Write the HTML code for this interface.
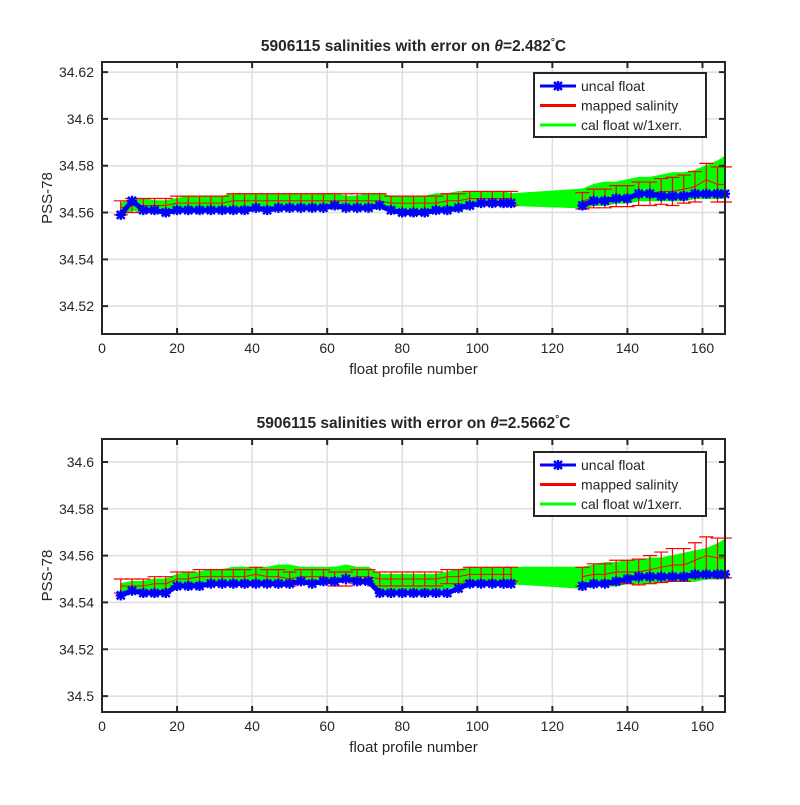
<!DOCTYPE html>
<html><head><meta charset="utf-8"><style>
body{margin:0;background:#fff}
svg text{font-family:"Liberation Sans",sans-serif;fill:#262626}
</style></head><body>
<svg id="fig" width="800" height="800" viewBox="0 0 800 800" xmlns="http://www.w3.org/2000/svg"></svg>
<script>
const profiles=[5,8,11,14,17,20,23,26,29,32,35,38,41,44,47,50,53,56,59,62,65,68,71,74,77,80,83,86,89,92,95,98,101,104,107,109,128,131,134,137,140,143,146,149,152,155,158,161,164,166];
const xTicks=[0,20,40,60,80,100,120,140,160];
// panel 1
const uncal1=[34.559,34.565,34.561,34.561,34.560,34.561,34.561,34.561,34.561,34.561,34.561,34.561,34.562,34.561,34.562,34.562,34.562,34.562,34.562,34.563,34.562,34.562,34.562,34.563,34.561,34.560,34.560,34.560,34.561,34.561,34.562,34.563,34.564,34.564,34.564,34.564,34.563,34.565,34.565,34.566,34.566,34.568,34.568,34.567,34.567,34.567,34.568,34.568,34.568,34.568];
const mapped1=[34.562,34.563,34.563,34.563,34.563,34.564,34.564,34.564,34.564,34.564,34.565,34.565,34.565,34.565,34.565,34.565,34.565,34.565,34.565,34.565,34.565,34.565,34.565,34.565,34.564,34.564,34.564,34.564,34.564,34.565,34.565,34.566,34.566,34.566,34.566,34.566,34.565,34.566,34.566,34.567,34.567,34.568,34.568,34.569,34.569,34.570,34.571,34.574,34.572,34.572];
const err1=[0.003,0.003,0.003,0.003,0.003,0.003,0.003,0.003,0.003,0.003,0.003,0.003,0.003,0.003,0.003,0.003,0.003,0.003,0.003,0.003,0.003,0.003,0.003,0.003,0.003,0.003,0.003,0.003,0.003,0.003,0.003,0.003,0.003,0.003,0.003,0.003,0.0035,0.004,0.004,0.0045,0.0045,0.005,0.005,0.0055,0.006,0.006,0.0065,0.007,0.0075,0.0075];
const calHi1=[34.564,34.566,34.566,34.565,34.565,34.566,34.567,34.567,34.567,34.567,34.568,34.568,34.568,34.568,34.568,34.568,34.568,34.568,34.568,34.568,34.567,34.567,34.568,34.568,34.567,34.567,34.567,34.567,34.568,34.568,34.569,34.569,34.569,34.569,34.569,34.568,34.570,34.572,34.573,34.573,34.574,34.575,34.575,34.576,34.577,34.577,34.578,34.580,34.582,34.584];
const calLo1=[34.558,34.561,34.560,34.560,34.559,34.560,34.560,34.560,34.560,34.560,34.560,34.560,34.561,34.560,34.561,34.561,34.561,34.561,34.561,34.562,34.561,34.561,34.561,34.562,34.560,34.559,34.559,34.559,34.560,34.560,34.561,34.562,34.563,34.563,34.563,34.563,34.562,34.563,34.563,34.564,34.564,34.565,34.565,34.565,34.565,34.565,34.566,34.566,34.566,34.566];
const yTicks1=[34.52,34.54,34.56,34.58,34.6,34.62];
const yTickLabels1=["34.52","34.54","34.56","34.58","34.6","34.62"];
// panel 2
const uncal2=[34.543,34.545,34.544,34.544,34.544,34.547,34.547,34.547,34.548,34.548,34.548,34.548,34.548,34.548,34.548,34.548,34.549,34.548,34.549,34.549,34.550,34.549,34.549,34.544,34.544,34.544,34.544,34.544,34.544,34.544,34.546,34.548,34.548,34.548,34.548,34.548,34.547,34.548,34.548,34.549,34.550,34.551,34.551,34.551,34.551,34.551,34.552,34.552,34.552,34.552];
const mapped2=[34.547,34.547,34.547,34.548,34.548,34.550,34.550,34.551,34.551,34.551,34.551,34.551,34.552,34.551,34.551,34.550,34.551,34.551,34.551,34.550,34.550,34.551,34.551,34.550,34.550,34.550,34.550,34.550,34.550,34.551,34.551,34.552,34.552,34.552,34.552,34.552,34.551,34.552,34.552,34.553,34.553,34.553,34.554,34.555,34.556,34.556,34.558,34.560,34.559,34.559];
const err2=[0.003,0.003,0.003,0.003,0.003,0.003,0.003,0.003,0.003,0.003,0.003,0.003,0.003,0.003,0.003,0.003,0.003,0.003,0.003,0.003,0.003,0.003,0.003,0.003,0.003,0.003,0.003,0.003,0.003,0.003,0.003,0.003,0.003,0.003,0.003,0.003,0.004,0.0045,0.0045,0.005,0.005,0.0055,0.006,0.0065,0.007,0.007,0.0075,0.008,0.0085,0.0085];
const calHi2=[34.548,34.549,34.549,34.550,34.550,34.552,34.553,34.553,34.554,34.554,34.555,34.555,34.555,34.555,34.556,34.556,34.555,34.555,34.555,34.555,34.556,34.555,34.555,34.552,34.552,34.552,34.552,34.552,34.552,34.553,34.554,34.555,34.555,34.555,34.555,34.555,34.555,34.556,34.557,34.557,34.558,34.558,34.559,34.559,34.560,34.561,34.562,34.563,34.565,34.567];
const calLo2=[34.544,34.546,34.545,34.545,34.545,34.547,34.547,34.547,34.548,34.548,34.548,34.548,34.548,34.548,34.548,34.548,34.549,34.548,34.549,34.549,34.549,34.549,34.549,34.545,34.545,34.545,34.545,34.545,34.545,34.546,34.547,34.548,34.548,34.548,34.548,34.548,34.546,34.547,34.547,34.547,34.548,34.548,34.548,34.549,34.549,34.549,34.549,34.550,34.550,34.550];
const yTicks2=[34.5,34.52,34.54,34.56,34.58,34.6];
const yTickLabels2=["34.5","34.52","34.54","34.56","34.58","34.6"];

const NS="http://www.w3.org/2000/svg";
const svg=document.getElementById('fig');
function mk(tag,attrs,parent){const e=document.createElementNS(NS,tag);for(const k in attrs)e.setAttribute(k,attrs[k]);(parent||svg).appendChild(e);return e;}
// split into segments where profile gap > 10
function segments(){const segs=[];let cur=[];profiles.forEach((p,i)=>{if(i>0&&p-profiles[i-1]>10){segs.push(cur);cur=[];}cur.push(i);});segs.push(cur);return segs;}

function panel(cfg){
  const g=mk('g',{});
  
  
  const L=102,R=725,T=cfg.top,B=cfg.bottom;
  const sx=v=>L+(v-0)/(166-0)*(R-L);
  const sy=v=>B-(v-cfg.ymin)/(cfg.ymax-cfg.ymin)*(B-T);
  xTicks.forEach(t=>{const l=mk('line',{x1:sx(t),x2:sx(t),y1:T,y2:B,stroke:'#dedede','stroke-width':1.5},g);
    
    });
  cfg.yt.forEach(t=>{const l=mk('line',{x1:L,x2:R,y1:sy(t),y2:sy(t),stroke:'#dedede','stroke-width':1.5},g);
    
    });
  let pts=profiles.map((p,i)=>sx(p)+','+sy(cfg.hi[i]));
  for(let i=profiles.length-1;i>=0;i--)pts.push(sx(profiles[i])+','+sy(cfg.lo[i]));
  const band=mk('polygon',{points:pts.join(' '),fill:'#00ff00',stroke:'#00ff00','stroke-width':1},g);
  
  
  const segs=segments();
  segs.forEach(s=>{
    const mline=mk('polyline',{points:s.map(i=>sx(profiles[i])+','+sy(cfg.mapped[i])).join(' '),fill:'none',stroke:'#ff0000','stroke-width':1},g);
    
    
  });
  profiles.forEach((p,i)=>{
    const x=sx(p),y1=sy(cfg.mapped[i]+cfg.err[i]),y2=sy(cfg.mapped[i]-cfg.err[i]);
    const eb=mk('path',{d:`M${x},${y1}V${y2}M${x-7},${y1}H${x+7}M${x-7},${y2}H${x+7}`,stroke:'#ff0000','stroke-width':1.2,fill:'none'},g);
    
    
  });
  segs.forEach(s=>{
    const u=mk('polyline',{points:s.map(i=>sx(profiles[i])+','+sy(cfg.uncal[i])).join(' '),fill:'none',stroke:'#0000ff','stroke-width':5,'stroke-linejoin':'round'},g);
    
    
  });
  profiles.forEach((p,i)=>{
    const x=sx(p),y=sy(cfg.uncal[i]);
    const m=mk('path',{d:`M${x-5},${y}h10M${x},${y-5}v10M${x-4},${y-4}l8,8M${x-4},${y+4}l8,-8`,stroke:'#0000ff','stroke-width':2.4},g);
    
    
  });
  const box=mk('rect',{x:L,y:T,width:R-L,height:B-T,fill:'none',stroke:'#262626','stroke-width':2},g);
  
  
  xTicks.forEach(t=>{
    mk('path',{d:`M${sx(t)},${B}v-6M${sx(t)},${T}v6`,stroke:'#262626','stroke-width':2},g);
    const tx=mk('text',{x:sx(t),y:B+19,'text-anchor':'middle','font-size':14},g);tx.textContent=t;
    
    
  });
  cfg.yt.forEach((t,i)=>{
    mk('path',{d:`M${L},${sy(t)}h6M${R},${sy(t)}h-6`,stroke:'#262626','stroke-width':2},g);
    const tx=mk('text',{x:L-8,y:sy(t)+5,'text-anchor':'end','font-size':14},g);tx.textContent=cfg.ytl[i];
    
    
  });
  const xl=mk('text',{x:(L+R)/2,y:B+40,'text-anchor':'middle','font-size':15},g);xl.textContent='float profile number';
  
  
  const yl=mk('text',{x:52,y:(T+B)/2,'text-anchor':'middle','font-size':15,transform:`rotate(-90 52 ${(T+B)/2})`},g);yl.textContent='PSS-78';
  
  
  const ti=mk('text',{x:(L+R)/2,y:T-11,'text-anchor':'middle','font-size':15.5,'font-weight':'bold'},g);
  ti.innerHTML=cfg.title;
  
  
  const lg=mk('g',{},g);
  
  
  const lx=534,ly=cfg.legTop;
  mk('rect',{x:lx,y:ly,width:172,height:64,fill:'#fff',stroke:'#262626','stroke-width':2},lg);
  const items=[['uncal float','#0000ff'],['mapped salinity','#ff0000'],['cal float w/1xerr.','#00ff00']];
  items.forEach((it,k)=>{
    const yy=ly+13+k*19.5;
    const e=mk('g',{},lg);
    
    
    mk('line',{x1:lx+6,x2:lx+42,y1:yy,y2:yy,stroke:it[1],'stroke-width':3},e);
    if(k==0)mk('path',{d:`M${lx+19},${yy}h10M${lx+24},${yy-5}v10M${lx+20},${yy-4}l8,8M${lx+20},${yy+4}l8,-8`,stroke:'#0000ff','stroke-width':2.4},e);
    const t=mk('text',{x:lx+47,y:yy+5,'font-size':14},e);t.textContent=it[0];
  });
}
panel({name:'panel-top',top:62,bottom:334,ymin:34.5081,ymax:34.6243,yt:yTicks1,ytl:yTickLabels1,uncal:uncal1,mapped:mapped1,err:err1,hi:calHi1,lo:calLo1,legTop:73,
  title:'5906115 salinities with error on <tspan font-style="italic">θ</tspan>=2.482<tspan dy="-6" font-size="10">°</tspan><tspan dy="6">C</tspan>'});
panel({name:'panel-bottom',top:439,bottom:712,ymin:34.4932,ymax:34.6098,yt:yTicks2,ytl:yTickLabels2,uncal:uncal2,mapped:mapped2,err:err2,hi:calHi2,lo:calLo2,legTop:452,
  title:'5906115 salinities with error on <tspan font-style="italic">θ</tspan>=2.5662<tspan dy="-6" font-size="10">°</tspan><tspan dy="6">C</tspan>'});
</script>
</body></html>
